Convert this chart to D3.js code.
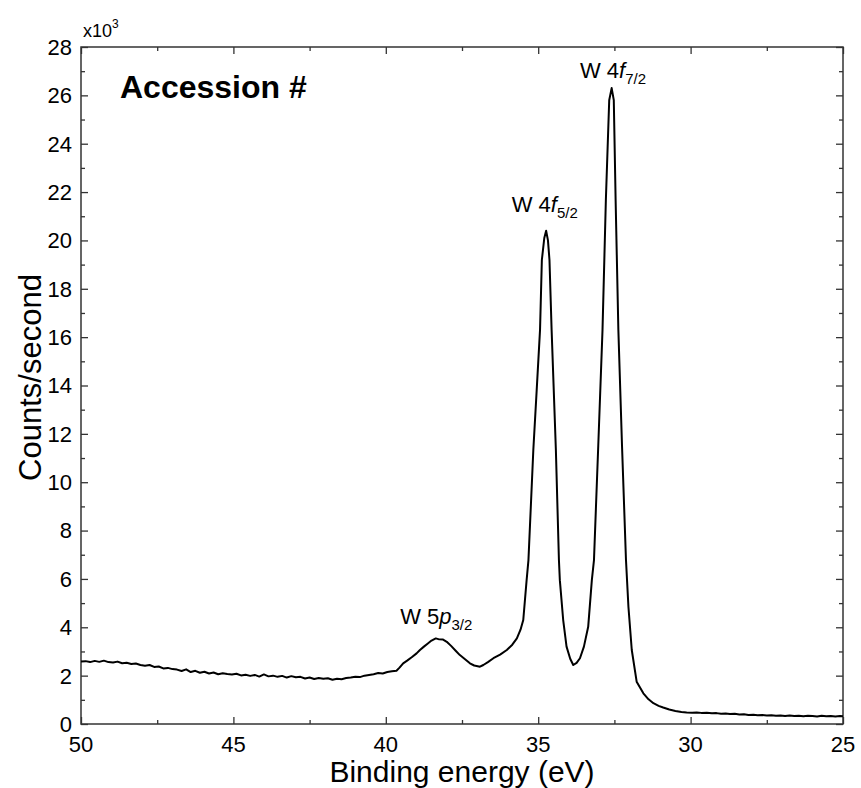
<!DOCTYPE html>
<html>
<head>
<meta charset="utf-8">
<script src="https://cdn.jsdelivr.net/npm/d3@7"></script>
<style>
  body { margin: 0; background: #fff; }
  svg { display: block; font-family: Arial, "Liberation Sans", sans-serif; }
</style>
</head>
<body>
<div id="chart"></div>
<script>
// XPS spectrum, W 4f region
var bindingEnergy = [
  50.00, 49.85, 49.70, 49.55, 49.40, 49.25, 49.10, 48.95, 48.80, 48.65,
  48.50, 48.35, 48.20, 48.05, 47.90, 47.75, 47.60, 47.45, 47.30, 47.15,
  47.00, 46.85, 46.70, 46.55, 46.40, 46.25, 46.10, 45.95, 45.80, 45.65,
  45.50, 45.35, 45.20, 45.05, 44.90, 44.75, 44.60, 44.45, 44.30, 44.15,
  44.00, 43.85, 43.70, 43.55, 43.40, 43.25, 43.10, 42.95, 42.80, 42.65,
  42.50, 42.35, 42.20, 42.05, 41.90, 41.75, 41.60, 41.45, 41.30, 41.15,
  41.00, 40.85, 40.70, 40.55, 40.40, 40.25, 40.10, 39.95, 39.80, 39.65,
  39.55, 39.43, 39.30, 39.15, 38.99, 38.88, 38.75, 38.62, 38.50, 38.36,
  38.25, 38.12, 38.00, 37.85, 37.70, 37.57, 37.40, 37.24, 37.10, 36.91,
  36.80, 36.65, 36.47, 36.25, 36.03, 35.85, 35.70, 35.58, 35.49, 35.38,
  35.32, 35.16, 35.05, 34.94, 34.88, 34.80, 34.74, 34.68, 34.63, 34.56,
  34.42, 34.32, 34.29, 34.18, 34.07, 33.95, 33.85, 33.74, 33.63, 33.50,
  33.36, 33.24, 33.17, 33.03, 32.89, 32.78, 32.67, 32.59, 32.52, 32.46,
  32.37, 32.25, 32.12, 32.04, 31.93, 31.77, 31.55, 31.38, 31.22, 31.05,
  30.90, 30.70, 30.50, 30.30, 30.13, 29.95, 29.80, 29.65, 29.47, 29.30,
  29.15, 29.00, 28.85, 28.71, 28.55, 28.40, 28.25, 28.10, 27.94, 27.80,
  27.65, 27.50, 27.35, 27.20, 27.05, 26.90, 26.75, 26.60, 26.45, 26.30,
  26.15, 26.00, 25.85, 25.70, 25.55, 25.40, 25.25, 25.10, 25.00
];
var countsPerSecond = [
  2590, 2600, 2560, 2610, 2570, 2620, 2560, 2540, 2580, 2510,
  2530, 2480, 2500, 2440, 2410, 2440, 2360, 2380, 2300, 2320,
  2270, 2250, 2190, 2260, 2150, 2200, 2120, 2160, 2090, 2130,
  2060, 2100, 2070, 2050, 2080, 2010, 2040, 1990, 2030, 1960,
  2050, 1970, 2000, 1950, 1990, 1920, 1980, 1930, 1950, 1880,
  1920, 1860, 1900, 1870, 1890, 1830, 1870, 1850, 1900, 1920,
  1950, 1940, 2000, 2030, 2060, 2110, 2090, 2150, 2180, 2200,
  2330, 2510, 2620, 2760, 2920, 3060, 3200, 3330, 3450, 3540,
  3500, 3490, 3400, 3220, 3020, 2850, 2680, 2510, 2420, 2370,
  2440, 2560, 2720, 2870, 3060, 3280, 3540, 3900, 4300, 5950,
  6780, 11330, 13800, 16300, 19190, 20100, 20400, 20000, 19190, 16300,
  11330, 6780, 5950, 4300, 3200, 2700, 2440, 2530, 2720, 3200,
  4020, 5950, 6780, 11500, 16300, 21670, 25800, 26300, 25800, 21670,
  16300, 11500, 6780, 4850, 3060, 1750, 1270, 1020, 860, 750,
  680, 600, 540, 500, 480, 470, 480, 460, 470, 440,
  450, 420, 430, 410, 420, 390, 400, 370, 380, 360,
  370, 350, 360, 340, 350, 330, 350, 330, 340, 320,
  340, 330, 310, 340, 320, 330, 310, 330, 320
];

var xMajorTicks = [50, 45, 40, 35, 30, 25];
var xMinorTicks = [47.5, 42.5, 37.5, 32.5, 27.5];
var yMajorTicks = [0, 2, 4, 6, 8, 10, 12, 14, 16, 18, 20, 22, 24, 26, 28];
var yMinorTicks = [1, 3, 5, 7, 9, 11, 13, 15, 17, 19, 21, 23, 25, 27];

// peak annotations: [main text, italic letter, subscript, eV at left edge, counts at baseline]
var peakLabels = [
  ["W 4", "f", "7/2", 33.63, 26700],
  ["W 4", "f", "5/2", 35.87, 21190],
  ["W 5", "p", "3/2", 39.53, 4120]
];

var width = 861;
var height = 788;
var margin = { top: 47, right: 18, bottom: 64, left: 81 };

var svg = d3.select("#chart")
  .append("svg")
  .attr("width", width)
  .attr("height", height);

var x = d3.scaleLinear()
  .domain([50, 25])
  .range([margin.left, width - margin.right]);

// counts are shown in thousands
var y = d3.scaleLinear()
  .domain([0, 28])
  .range([height - margin.bottom, margin.top]);

var x0 = x.range()[0], x1 = x.range()[1];
var yb = y.range()[0], yt = y.range()[1];

// inward ticks on all four sides
function tickAxis(axis, vals, size) {
  return axis.tickValues(vals).tickSizeInner(-size).tickSizeOuter(0).tickFormat("");
}

var axisColor = "#333";

svg.append("g").attr("transform", "translate(0," + yb + ")").call(tickAxis(d3.axisBottom(x), xMajorTicks, 7));
svg.append("g").attr("transform", "translate(0," + yb + ")").call(tickAxis(d3.axisBottom(x), xMinorTicks, 4));
svg.append("g").attr("transform", "translate(0," + yt + ")").call(tickAxis(d3.axisTop(x), xMajorTicks, 7));
svg.append("g").attr("transform", "translate(0," + yt + ")").call(tickAxis(d3.axisTop(x), xMinorTicks, 4));
svg.append("g").attr("transform", "translate(" + x0 + ",0)").call(tickAxis(d3.axisLeft(y), yMajorTicks, 7));
svg.append("g").attr("transform", "translate(" + x0 + ",0)").call(tickAxis(d3.axisLeft(y), yMinorTicks, 4));
svg.append("g").attr("transform", "translate(" + x1 + ",0)").call(tickAxis(d3.axisRight(y), yMajorTicks, 7));
svg.append("g").attr("transform", "translate(" + x1 + ",0)").call(tickAxis(d3.axisRight(y), yMinorTicks, 4));

svg.selectAll(".domain").remove();
svg.selectAll(".tick line").attr("stroke", axisColor).attr("stroke-width", 1.3);

// frame
svg.append("rect")
  .attr("x", x0)
  .attr("y", yt)
  .attr("width", x1 - x0)
  .attr("height", yb - yt)
  .attr("fill", "none")
  .attr("stroke", axisColor)
  .attr("stroke-width", 1.5);

// tick labels
svg.append("g")
  .selectAll("text")
  .data(xMajorTicks)
  .enter()
  .append("text")
  .attr("x", function(d) { return x(d); })
  .attr("y", yb + 28)
  .attr("text-anchor", "middle")
  .style("font-size", "22px")
  .text(function(d) { return d; });

svg.append("g")
  .selectAll("text")
  .data(yMajorTicks)
  .enter()
  .append("text")
  .attr("x", x0 - 9)
  .attr("y", function(d) { return y(d); })
  .attr("dy", "0.36em")
  .attr("text-anchor", "end")
  .style("font-size", "22px")
  .text(function(d) { return d; });

// x10^3 multiplier
var mult = svg.append("text")
  .attr("x", x0 + 2)
  .attr("y", 37)
  .style("font-size", "18px");
mult.append("tspan").text("x10");
mult.append("tspan").attr("dy", -9).style("font-size", "12px").text("3");

// axis titles
svg.append("text")
  .attr("x", (x0 + x1) / 2)
  .attr("y", 782)
  .attr("text-anchor", "middle")
  .style("font-size", "30px")
  .text("Binding energy (eV)");

svg.append("text")
  .attr("transform", "translate(41," + ((yb + yt) / 2 - 8) + ") rotate(-90)")
  .attr("text-anchor", "middle")
  .style("font-size", "31px")
  .text("Counts/second");

svg.append("text")
  .attr("x", 120)
  .attr("y", 98)
  .style("font-size", "32px")
  .style("font-weight", "bold")
  .text("Accession #");

// spectrum
var spectrum = d3.zip(bindingEnergy, countsPerSecond);

var line = d3.line()
  .x(function(d) { return x(d[0]); })
  .y(function(d) { return y(d[1] / 1000); });

svg.append("path")
  .datum(spectrum)
  .attr("d", line)
  .attr("fill", "none")
  .attr("stroke", "#000")
  .attr("stroke-width", 2)
  .attr("stroke-linejoin", "round");

// peak labels
peakLabels.forEach(function(p) {
  var t = svg.append("text")
    .attr("x", x(p[3]))
    .attr("y", y(p[4] / 1000))
    .style("font-size", "22px");
  t.append("tspan").text(p[0]);
  t.append("tspan").style("font-style", "italic").text(p[1]);
  t.append("tspan").attr("dy", 6).style("font-size", "15px").text(p[2]);
});
</script>
</body>
</html>
